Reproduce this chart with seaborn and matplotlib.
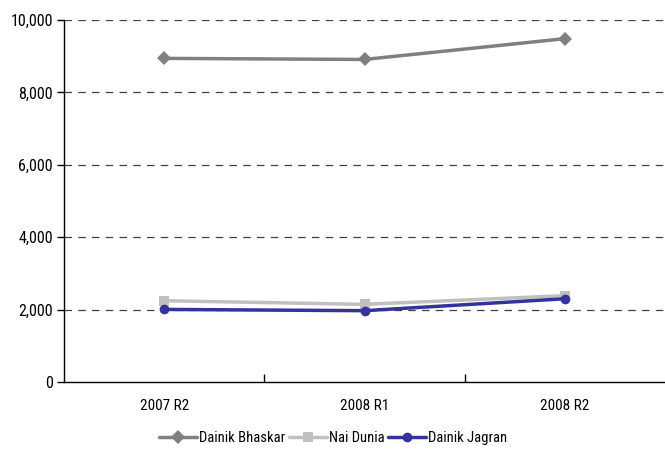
import matplotlib
matplotlib.use("Agg")
import matplotlib.pyplot as plt
import matplotlib.ticker as mticker
import seaborn as sns
import pandas as pd

periods = ["2007 R2", "2008 R1", "2008 R2"]
dainik_bhaskar = [8940, 8910, 9485]
nai_dunia = [2245, 2145, 2385]
dainik_jagran = [2005, 1970, 2300]

series_names = ["Dainik Bhaskar", "Nai Dunia", "Dainik Jagran"]
series_values = [dainik_bhaskar, nai_dunia, dainik_jagran]

rows = []
for name, vals in zip(series_names, series_values):
    for p, v in zip(periods, vals):
        rows.append({"period": p, "readers": v, "paper": name})
df = pd.DataFrame(rows)

sns.set_theme(style="white")
plt.rcParams["font.family"] = ["Roboto Condensed", "Fira Sans Condensed",
                               "Liberation Sans Narrow", "DejaVu Sans"]
plt.rcParams["text.color"] = "black"

fig = plt.figure(figsize=(6.65, 4.5), dpi=100)
ax = fig.add_axes([64 / 665, 68 / 450, 601 / 665, 362 / 450])

palette = {"Dainik Bhaskar": "#808080", "Nai Dunia": "#c0c0c0", "Dainik Jagran": "#333399"}
markers = {"Dainik Bhaskar": "D", "Nai Dunia": "s", "Dainik Jagran": "o"}

sns.lineplot(data=df, x="period", y="readers", hue="paper", style="paper",
             palette=palette, markers=markers, dashes=False, linewidth=2.5,
             markersize=7, markeredgewidth=0, ax=ax, sort=False)

ax.set_xlim(-0.5, 2.5)
ax.set_ylim(0, 10000)
ax.set_yticks(range(0, 10001, 2000))
ax.yaxis.set_major_formatter(mticker.FuncFormatter(lambda v, _: f"{int(v):,}"))
ax.set_xticks(range(len(periods)))
ax.set_xticklabels(periods)
ax.xaxis.set_minor_locator(mticker.FixedLocator([0.5, 1.5]))
ax.tick_params(axis="x", which="major", length=0, pad=12, labelsize=11, colors="black")
ax.tick_params(axis="x", which="minor", length=6, width=1, direction="in", color="black", top=False, bottom=True)
ax.tick_params(axis="y", length=5, width=1, direction="out", left=True, labelsize=11.5, colors="black", pad=3)
ax.set_xlabel("")
ax.set_ylabel("")

for y in range(2000, 10001, 2000):
    ax.axhline(y, color="#404040", linewidth=0.9, linestyle=(0, (6, 5)), zorder=0)

for side in ["top", "right"]:
    ax.spines[side].set_visible(False)
for side in ["left", "bottom"]:
    ax.spines[side].set_color("black")
    ax.spines[side].set_linewidth(1)

handles, labels = ax.get_legend_handles_labels()
ax.legend(handles, labels, loc="center", bbox_to_anchor=(0.448, -0.155), ncol=3,
          frameon=False, fontsize=10.5, handlelength=2.6, handletextpad=0.15,
          columnspacing=0.25, labelcolor="black")

fig.savefig("out.png", dpi=100)
